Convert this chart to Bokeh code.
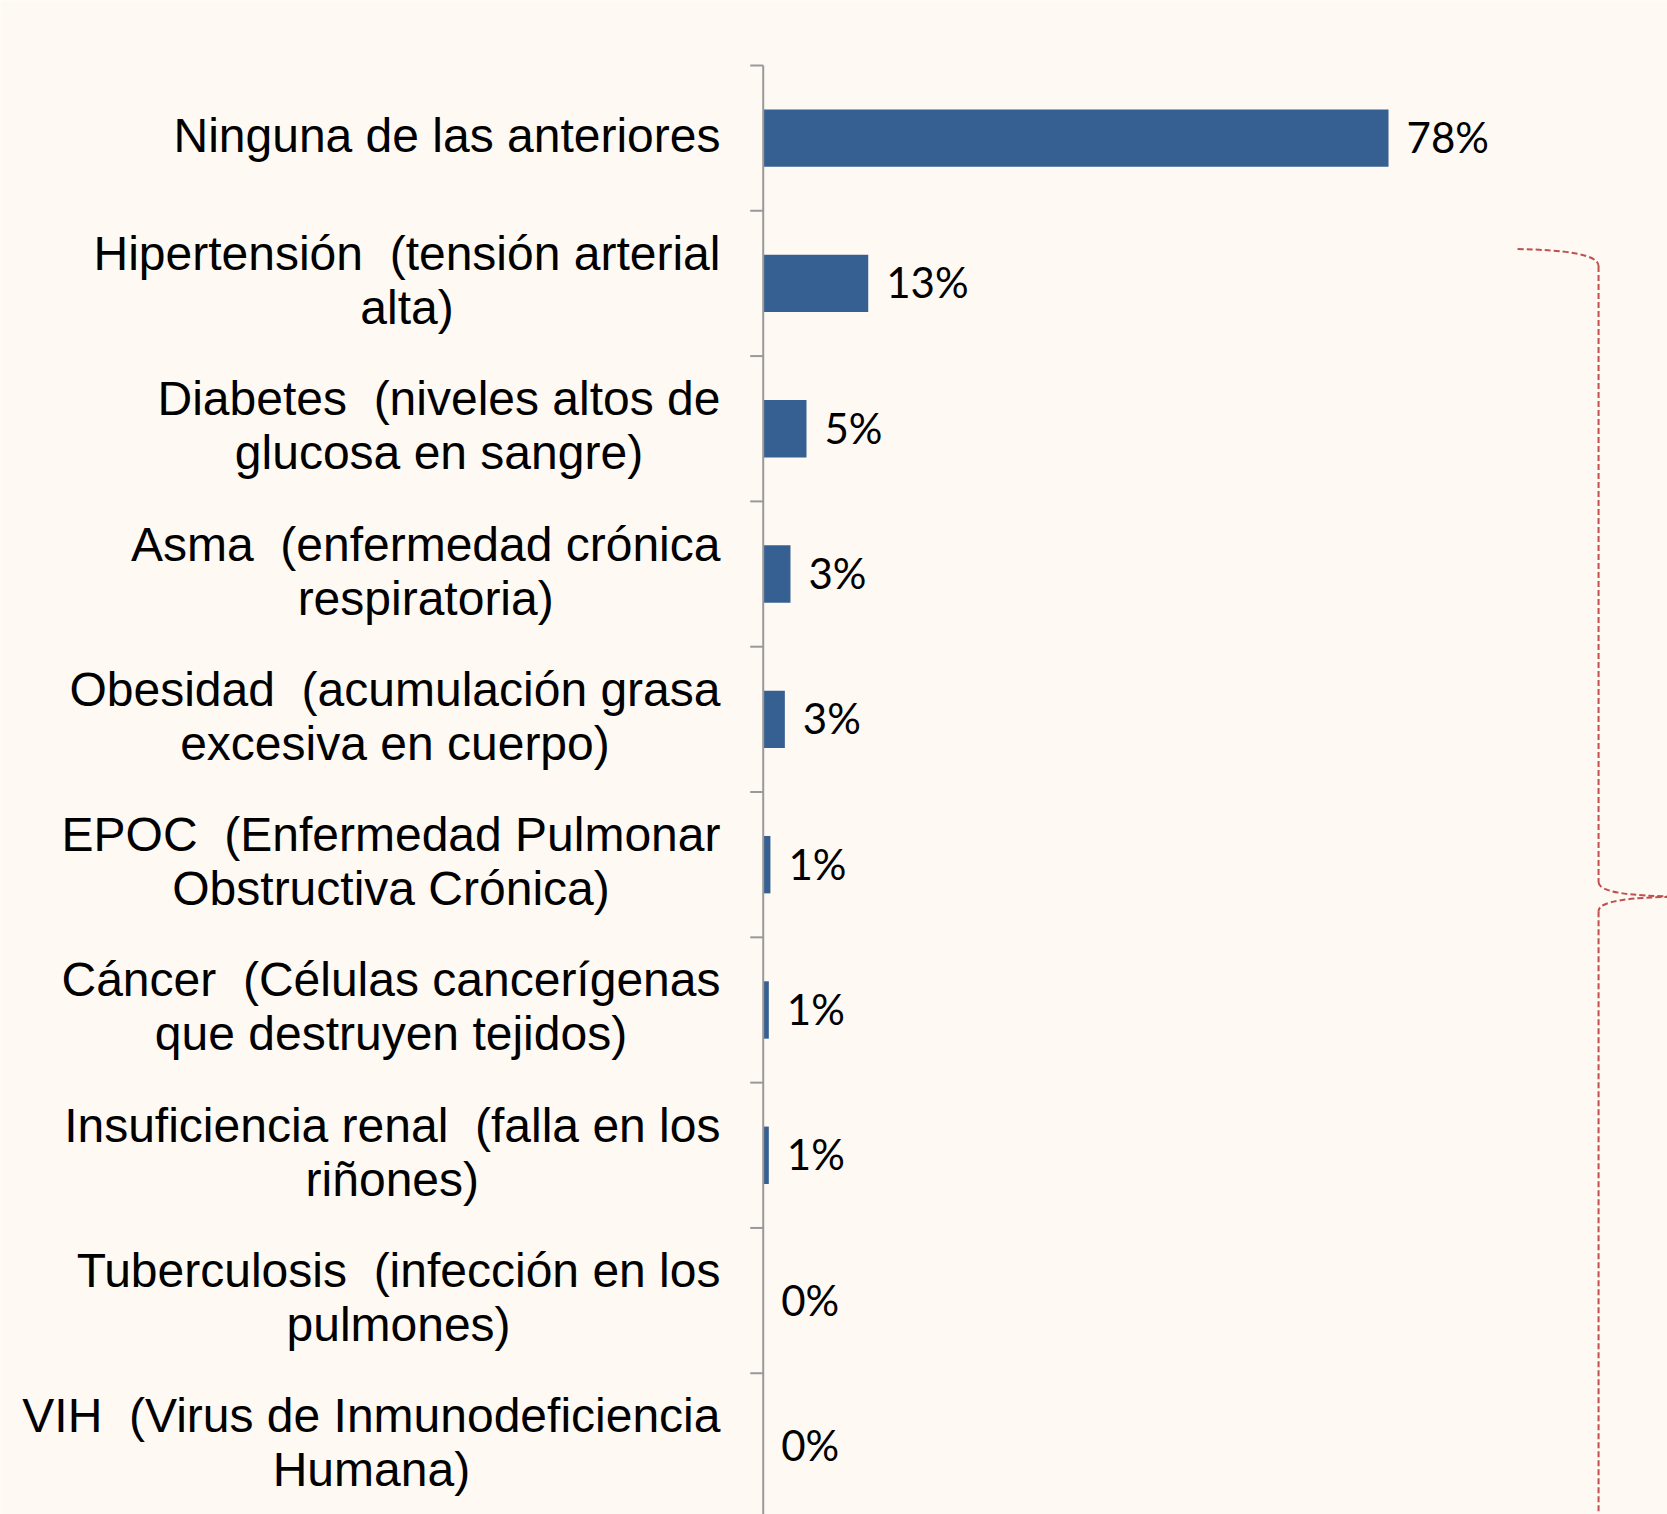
from bokeh.plotting import figure
from bokeh.models import Range1d
from bokeh.core.properties import value
from bokeh.embed import file_html
from bokeh.resources import INLINE

# ---- data ----
SP = "\u00a0 "  # double space (kept visible in SVG text)
categories = [
    "Ninguna de las anteriores",
    "Hipertensión" + SP + "(tensión arterial\nalta)",
    "Diabetes" + SP + "(niveles altos de\nglucosa en sangre)",
    "Asma" + SP + "(enfermedad crónica\nrespiratoria)",
    "Obesidad" + SP + "(acumulación grasa\nexcesiva en cuerpo)",
    "EPOC" + SP + "(Enfermedad Pulmonar\nObstructiva Crónica)",
    "Cáncer" + SP + "(Células cancerígenas\nque destruyen tejidos)",
    "Insuficiencia renal" + SP + "(falla en los\nriñones)",
    "Tuberculosis" + SP + "(infección en los\npulmones)",
    "VIH" + SP + "(Virus de Inmunodeficiencia\nHumana)",
]
values = [78.0, 13.1, 5.4, 3.4, 2.7, 0.9, 0.7, 0.7, 0.0, 0.0]
value_labels = ["78%", "13%", "5%", "3%", "3%", "1%", "1%", "1%", "0%", "0%"]

# ---- style ----
BG = "#FEF9F3"
BAR = "#376092"
AXIS = "#999999"
BRACE = "#C0504D"

W, H = 1667, 1514
p = figure(width=W, height=H, output_backend="svg", toolbar_location=None,
           x_range=Range1d(-95.14, 112.80), y_range=Range1d(9.472, -0.947),
           min_border=0, background_fill_color=BG, border_fill_color=BG,
           outline_line_color=None)
p.axis.visible = False
p.grid.visible = False

n = len(categories)
ys = list(range(n))

# bars
p.hbar(y=ys, left=0, right=values, height=0.395, fill_color=BAR, line_color=None)

# category axis line and ticks at category boundaries
p.segment(x0=[0], y0=[-0.5], x1=[0], y1=[n - 0.5 + 1], line_color=AXIS, line_width=2)
bounds = [i - 0.5 for i in range(n + 1)]
p.segment(x0=[-1.62] * len(bounds), y0=bounds, x1=[0] * len(bounds), y1=bounds,
          line_color=AXIS, line_width=2)

# category labels (lines centred, block right-aligned next to axis)
p.text(x=[-5.33] * n, y=ys, text=categories, y_offset=-3,
       text_font=value("Liberation Sans"), text_font_size="48px",
       text_align="center", text_baseline="middle", anchor="center_right",
       text_line_height=1.02, text_color="black")

# value labels
p.text(x=values, y=ys, text=value_labels, x_offset=18, y_offset=-1,
       text_font=value("Lato"), text_font_size="42px",
       text_align="left", text_baseline="middle", text_color="black")

# red dashed brace (annotation)
bx = 104.2
dash = "6 3"
p.bezier(x0=[94.1], y0=[0.763], x1=[bx], y1=[0.88],
         cx0=[100.0], cy0=[0.77], cx1=[bx], cy1=[0.80],
         line_color=BRACE, line_width=2, line_dash=dash)
p.segment(x0=[bx], y0=[0.88], x1=[bx], y1=[5.12],
          line_color=BRACE, line_width=2, line_dash=dash)
p.bezier(x0=[bx], y0=[5.12], x1=[114.3], y1=[5.22],
         cx0=[bx], cy0=[5.19], cx1=[108.0], cy1=[5.215],
         line_color=BRACE, line_width=2, line_dash=dash)
p.bezier(x0=[114.3], y0=[5.22], x1=[bx], y1=[5.32],
         cx0=[108.0], cy0=[5.225], cx1=[bx], cy1=[5.25],
         line_color=BRACE, line_width=2, line_dash=dash)
p.segment(x0=[bx], y0=[5.32], x1=[bx], y1=[10.5],
          line_color=BRACE, line_width=2, line_dash=dash)

html = file_html(p, INLINE)
html = html.replace("<body>", '<body style="background-color:%s;">' % BG, 1)
open("out.html", "w").write(html)
